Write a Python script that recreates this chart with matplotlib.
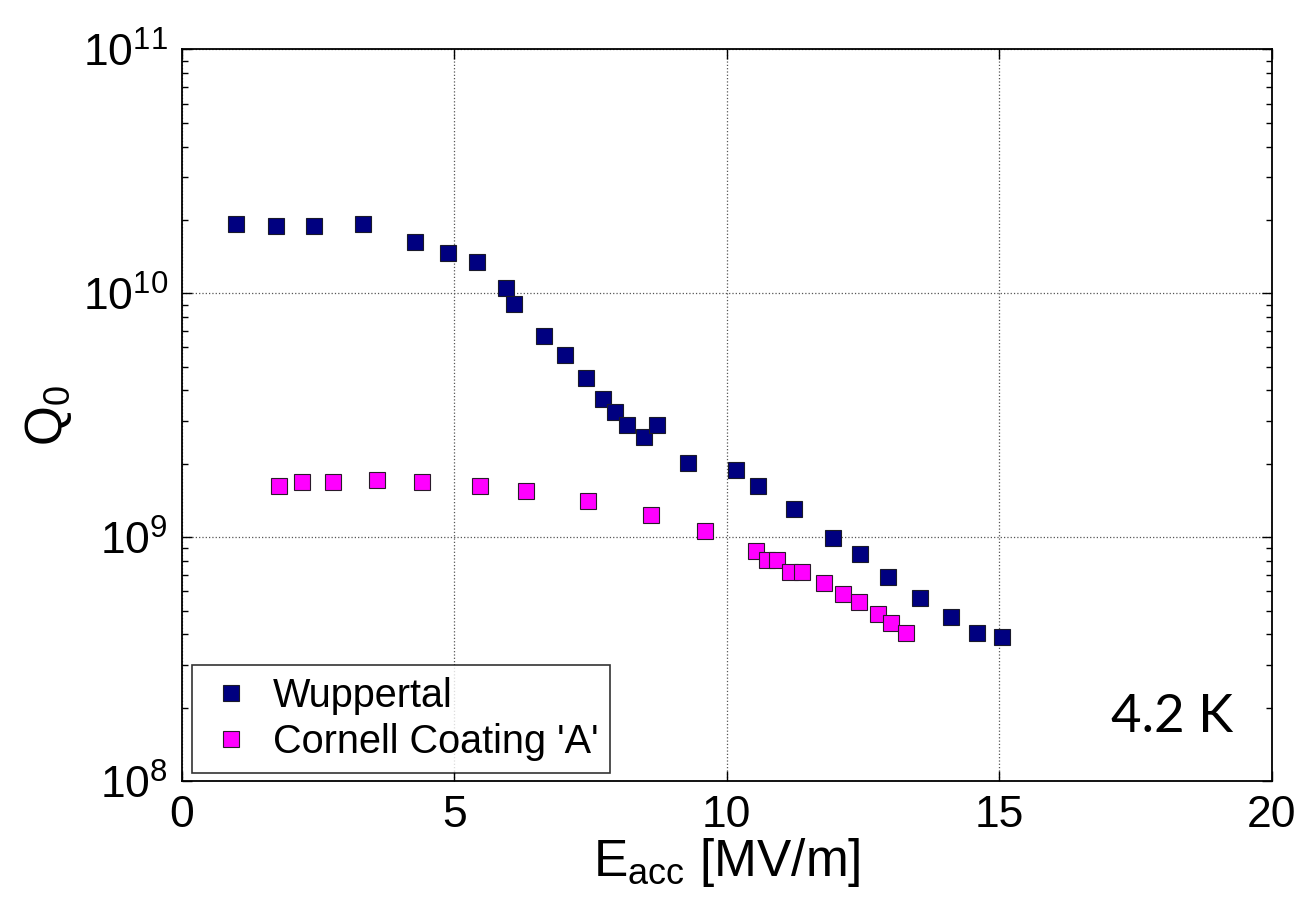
import numpy as np
import matplotlib.pyplot as plt
from matplotlib.ticker import LogLocator, NullFormatter

plt.rcParams['font.family'] = 'Liberation Sans'
plt.rcParams['mathtext.fontset'] = 'custom'
plt.rcParams['mathtext.rm'] = 'Liberation Sans'
plt.rcParams['mathtext.it'] = 'Liberation Sans'

# Wuppertal cavity, Q0 vs Eacc
wup_e = [1.0, 1.72, 2.42, 3.33, 4.27, 4.89, 5.42, 5.94, 6.09, 6.65, 7.03, 7.41,
         7.73, 7.94, 8.16, 8.48, 8.72, 9.28, 10.17, 10.57, 11.24, 11.94, 12.45,
         12.95, 13.55, 14.11, 14.59, 15.05]
wup_q = [1.92e10, 1.89e10, 1.89e10, 1.92e10, 1.62e10, 1.47e10, 1.34e10, 1.05e10,
         9.07e9, 6.68e9, 5.61e9, 4.50e9, 3.70e9, 3.26e9, 2.88e9, 2.58e9, 2.88e9,
         2.02e9, 1.88e9, 1.63e9, 1.31e9, 9.97e8, 8.55e8, 6.85e8, 5.64e8, 4.72e8,
         4.06e8, 3.89e8]

# Cornell coating A
cor_e = [1.78, 2.21, 2.77, 3.58, 4.41, 5.48, 6.31, 7.46, 8.61, 9.60, 10.54, 10.73,
         10.92, 11.16, 11.38, 11.78, 12.13, 12.42, 12.77, 13.01, 13.28]
cor_q = [1.63e9, 1.68e9, 1.68e9, 1.71e9, 1.68e9, 1.63e9, 1.55e9, 1.41e9, 1.24e9,
         1.06e9, 8.78e8, 8.10e8, 8.10e8, 7.23e8, 7.23e8, 6.50e8, 5.88e8, 5.42e8,
         4.85e8, 4.46e8, 4.06e8]

fig = plt.figure(figsize=(12.99, 8.99), dpi=100)
ax = fig.add_axes([0.140, 0.131, 0.839, 0.814])

ax.semilogy(wup_e, wup_q, 's', color='#000080', markersize=11,
            markeredgecolor='#1a1a2a', markeredgewidth=0.8, label='Wuppertal')
ax.semilogy(cor_e, cor_q, 's', color='#ff00ff', markersize=11,
            markeredgecolor='#2a1a2a', markeredgewidth=0.8, label="Cornell Coating 'A'")

ax.set_xlim(0, 20)
ax.set_ylim(1e8, 1e11)
ax.set_xticks([0, 5, 10, 15, 20])
ax.yaxis.set_major_locator(LogLocator(base=10, numticks=10))
ax.yaxis.set_minor_locator(LogLocator(base=10, subs=np.arange(2, 10), numticks=20))
ax.yaxis.set_minor_formatter(NullFormatter())

ax.grid(True, which='major', linestyle=':', color='#555555', linewidth=0.9)
ax.tick_params(which='both', direction='in', top=True, right=True)
ax.tick_params(which='major', length=7, width=1, labelsize=32, pad=10)
ax.tick_params(which='minor', length=4, width=1)
for s in ax.spines.values():
    s.set_linewidth(1.3)

ax.set_xlabel(r'E$_{\rm acc}$ [MV/m]', fontsize=37, labelpad=0)
ax.set_ylabel(r'Q$_0$', fontsize=37, labelpad=6)

ax.text(0.965, 0.055, '4.2 K', transform=ax.transAxes, ha='right', va='bottom',
        fontsize=38, family='Lato')

leg = ax.legend(loc='lower left', bbox_to_anchor=(0.009, 0.011), fontsize=28.5,
                frameon=True, fancybox=False, edgecolor='black', borderpad=0.3,
                handletextpad=0.35, handlelength=1.4, labelspacing=0.22,
                borderaxespad=0)
leg.get_frame().set_linewidth(1.2)

fig.savefig('out.png', dpi=100)
